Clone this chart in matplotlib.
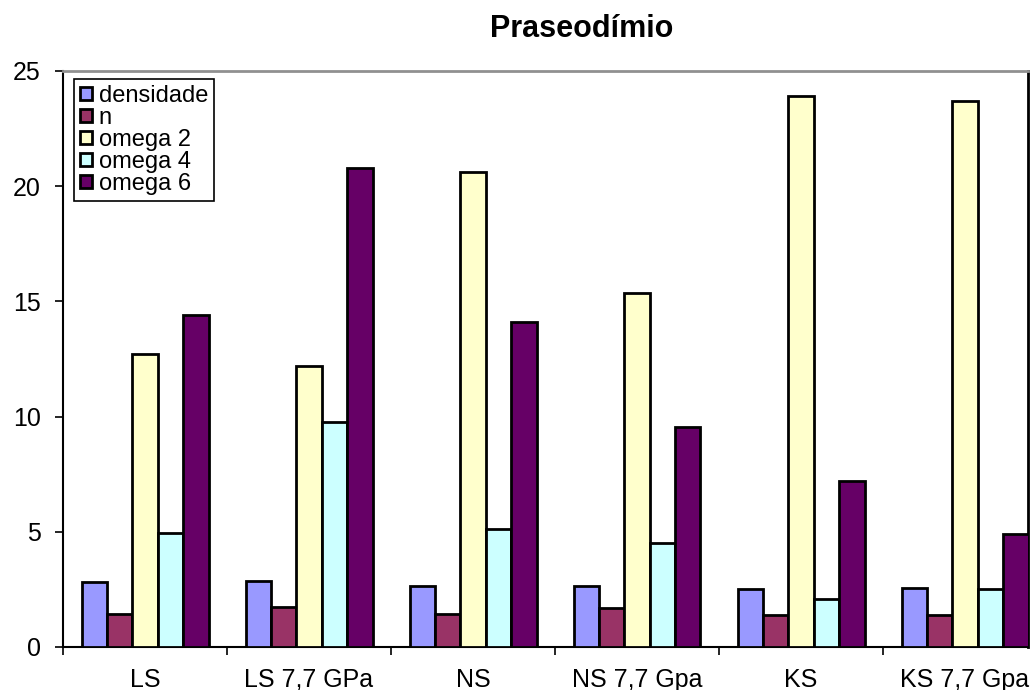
import numpy as np
import matplotlib
matplotlib.use("Agg")
import matplotlib.pyplot as plt

plt.rcParams['font.family'] = ['Liberation Sans', 'DejaVu Sans']

# data
categorias = ["LS", "LS 7,7 GPa", "NS", "NS 7,7 Gpa", "KS", "KS 7,7 Gpa"]
series = ["densidade", "n", "omega 2", "omega 4", "omega 6"]
densidade = [2.8, 2.85, 2.63, 2.63, 2.5, 2.56]
n = [1.42, 1.75, 1.42, 1.68, 1.41, 1.41]
omega2 = [12.7, 12.2, 20.6, 15.35, 23.9, 23.7]
omega4 = [4.95, 9.76, 5.1, 4.5, 2.07, 2.5]
omega6 = [14.4, 20.8, 14.1, 9.54, 7.2, 4.89]
cores = ["#9999FF", "#993366", "#FFFFCC", "#CCFFFF", "#660066"]

valores = [densidade, n, omega2, omega4, omega6]

fig = plt.figure(figsize=(10.32, 6.90), dpi=100)
ax = fig.add_axes([63/1032, 1 - 647/690, (1028 - 63)/1032, (647 - 71)/690])

x = np.arange(len(categorias)) + 0.5
w = 25.4 / 164
for k, (nome, vals, cor) in enumerate(zip(series, valores, cores)):
    ax.bar(x + (k - 2) * w, vals, width=w, color=cor, edgecolor="black",
           linewidth=2, label=nome, zorder=3)

ax.set_ylim(0, 25)
ax.set_xlim(0, (1028 - 63) / 164)
ax.set_yticks([0, 5, 10, 15, 20, 25])
ax.tick_params(axis="y", labelsize=18, length=6, width=1.2, pad=10)

# group boundaries as major ticks, labels at group centres
ax.set_xticks(np.arange(len(categorias)))
ax.set_xticklabels([])
ax.set_xticks(x, minor=True)
ax.set_xticklabels(categorias, minor=True, fontsize=18)
ax.tick_params(axis="x", which="major", length=6, width=1.2)
ax.tick_params(axis="x", which="minor", length=0, pad=15)

for s in ["left", "bottom"]:
    ax.spines[s].set_linewidth(1.5)
ax.spines["top"].set_color("#909090")
ax.spines["top"].set_linewidth(2)
ax.spines["right"].set_linewidth(2)

leg = ax.legend(loc="upper left", bbox_to_anchor=(74/1032, 1 - 79/690),
                bbox_transform=fig.transFigure, borderaxespad=0,
                fontsize=17, handlelength=0.5, handleheight=0.5,
                handletextpad=0.3, labelspacing=0.0, borderpad=0.25,
                fancybox=False, framealpha=1, edgecolor="black")
leg.get_frame().set_linewidth(1.2)

fig.text(582/1032, 1 - 29/690, "Praseodímio", ha="center", va="center",
         fontsize=22, fontweight="bold")

fig.savefig("out.png", dpi=100)
